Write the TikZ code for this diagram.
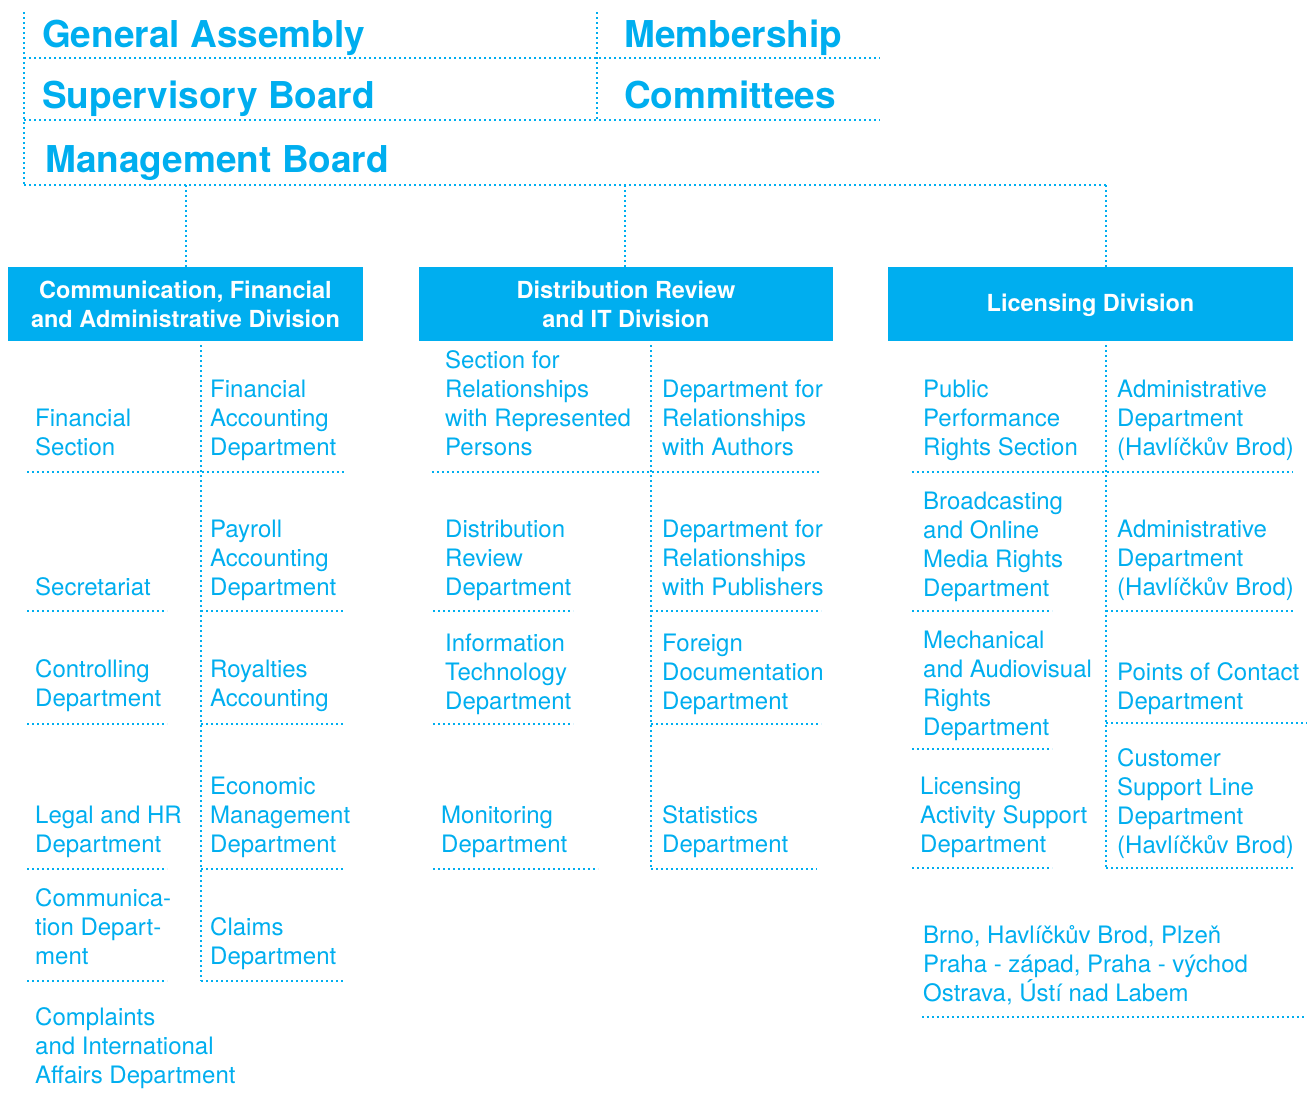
\documentclass[tikz,border=0pt]{standalone}
\usepackage{fontspec}
\setmainfont{TeX Gyre Heros}
\definecolor{osablue}{RGB}{0,174,239}

\begin{document}
\begin{tikzpicture}[x=1pt,y=-1pt,
    dots/.style={osablue,line width=2pt,dash pattern=on 2pt off 3pt},
    head/.style={anchor=base west,inner sep=0pt,text=osablue,
      font=\fontsize{37}{40}\selectfont\bfseries},
    unit/.style={anchor=base west,inner sep=0pt,align=left,text=osablue,
      font=\fontsize{24}{28.7}\selectfont},
    divbox/.style={fill=osablue,text=white,align=center,inner sep=0pt,
      minimum height=74pt,font=\fontsize{23.5}{29}\selectfont\bfseries}]
  \useasboundingbox (0,0) rectangle (1307,1096);

  % governing bodies
  \node[head] (ga) at (42,47) {General Assembly};
  \node[head] (memb) at (624,47) {Membership};
  \node[head] (sb) at (42,108) {Supervisory Board};
  \node[head] (comm) at (624,108) {Committees};
  \node[head] (mb) at (45,172) {Management Board};

  \draw[dots] (24,12) -- (24,185);
  \draw[dots] (597,12) -- (597,120);
  \draw[dots] (24,58) -- (880,58);
  \draw[dots] (24,120) -- (880,120);
  \draw[dots] (24,185) -- (1106,185);

  % divisions
  \node[divbox,minimum width=355pt] (cfa) at (185.5,304)
    {Communication, Financial\\and Administrative Division};
  \node[divbox,minimum width=414pt] (drit) at (626,304)
    {Distribution Review\\and IT Division};
  \node[divbox,minimum width=405pt,text height=20pt] (lic) at (1090.5,304)
    {Licensing Division};

  \coordinate (mb1) at (186,185);
  \coordinate (mb2) at (625,185);
  \coordinate (mb3) at (1106,185);
  \draw[dots] (mb1) -- (mb1 |- cfa.north);
  \draw[dots] (mb2) -- (mb2 |- drit.north);
  \draw[dots] (mb3) -- (mb3 |- lic.north);

  % Communication, Financial and Administrative Division
  % (units are placed at the baseline of their last line)
  \node[unit] (fsec) at (35,455) {Financial\\Section};
  \node[unit] (facc) at (210,455) {Financial\\Accounting\\Department};
  \node[unit] (secr) at (35,595) {Secretariat};
  \node[unit] (pacc) at (210,595) {Payroll\\Accounting\\Department};
  \node[unit] (ctrl) at (35,706) {Controlling\\Department};
  \node[unit] (racc) at (210,706) {Royalties\\Accounting};
  \node[unit] (legal) at (35,852) {Legal and HR\\Department};
  \node[unit] (econ) at (210,852) {Economic\\Management\\Department};
  \node[unit] (cdep) at (35,964) {Communica-\\tion Depart-\\ment};
  \node[unit] (claims) at (210,964) {Claims\\Department};
  \node[unit] (compl) at (35,1083) {Complaints\\and International\\Affairs Department};

  \draw[dots] (201,345) -- (201,981);
  \draw[dots] (27,472) -- (345,472);
  \foreach \y in {611,724,869,981}{
    \draw[dots] (27,\y) -- (167,\y);
    \draw[dots] (201,\y) -- (345,\y);
  }

  % Distribution Review and IT Division
  \node[unit] (srep) at (445,455) {Section for\\Relationships\\with Represented\\Persons};
  \node[unit] (dauth) at (662,455) {Department for\\Relationships\\with Authors};
  \node[unit] (drev) at (445,595) {Distribution\\Review\\Department};
  \node[unit] (dpub) at (662,595) {Department for\\Relationships\\with Publishers};
  \node[unit] (itd) at (445,709) {Information\\Technology\\Department};
  \node[unit] (fdoc) at (662,709) {Foreign\\Documentation\\Department};
  \node[unit] (mon) at (441,852) {Monitoring\\Department};
  \node[unit] (stat) at (662,852) {Statistics\\Department};

  \draw[dots] (651,345) -- (651,869);
  \draw[dots] (432,472) -- (821,472);
  \foreach \y in {611,724}{
    \draw[dots] (433,\y) -- (573,\y);
    \draw[dots] (651,\y) -- (821,\y);
  }
  \draw[dots] (433,869) -- (598,869);
  \draw[dots] (651,869) -- (817,869);

  % Licensing Division
  \node[unit] (pperf) at (923,455) {Public\\Performance\\Rights Section};
  \node[unit] (adma) at (1117,455) {Administrative\\Department\\(Havlíčkův Brod)};
  \node[unit] (bcast) at (923,596) {Broadcasting\\and Online\\Media Rights\\Department};
  \node[unit] (admb) at (1117,595) {Administrative\\Department\\(Havlíčkův Brod)};
  \node[unit] (mech) at (923,735) {Mechanical\\and Audiovisual\\Rights\\Department};
  \node[unit] (poc) at (1117,709) {Points of Contact\\Department};
  \node[unit] (lsup) at (920,852) {Licensing\\Activity Support\\Department};
  \node[unit] (csl) at (1117,853) {Customer\\Support Line\\Department\\(Havlíčkův Brod)};
  \node[unit] (cities) at (923,1001)
    {Brno, Havlíčkův Brod, Plzeň\\Praha - západ, Praha - východ\\Ostrava, Ústí nad Labem};

  \draw[dots] (1106,345) -- (1106,868);
  \draw[dots] (912,472) -- (1293,472);
  \draw[dots] (912,611) -- (1052,611);
  \draw[dots] (1106,611) -- (1295,611);
  \draw[dots] (912,749) -- (1052,749);
  \draw[dots] (1106,723) -- (1307,723);
  \draw[dots] (912,868) -- (1052,868);
  \draw[dots] (1106,868) -- (1293,868);
  \draw[dots] (922,1017) -- (1305,1017);
\end{tikzpicture}
\end{document}
